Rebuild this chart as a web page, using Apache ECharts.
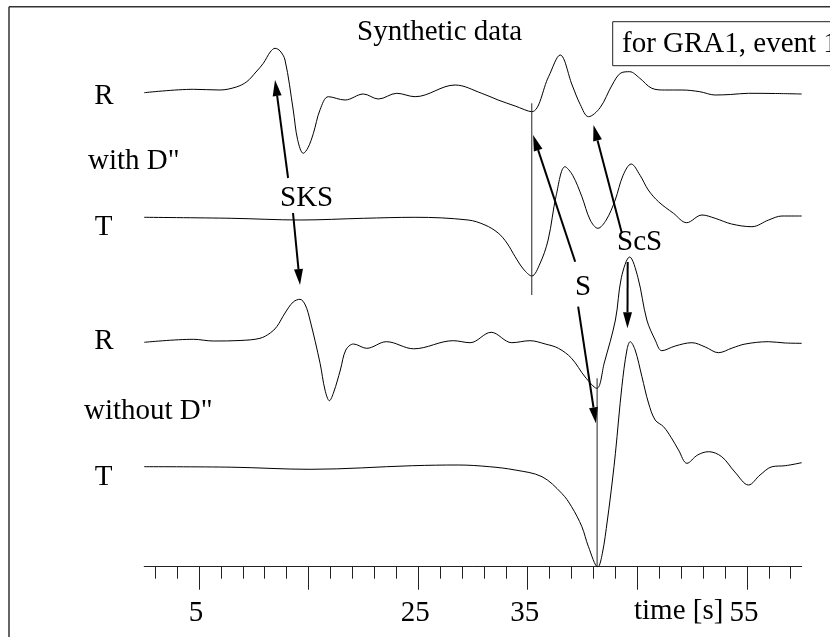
<!DOCTYPE html>
<html><head><meta charset="utf-8">
<script src="https://cdn.jsdelivr.net/npm/echarts@6/dist/echarts.min.js"></script>
<style>html,body{margin:0;padding:0;background:#fff}#c{width:830px;height:637px}</style>
</head><body><div id="c"></div>
<script>
// time axis (s)
const minorTicks = [1,3,5,7,9,11,13,15,17,19,21,23,25,27,29,31,33,35,37,39,41,43,45,47,49,51,53,55,57,59];
const majorTicks = [5,15,25,35,45,55];
const tickLabels = [5,25,35,55];

// traces: [time s, amplitude]
const withR = [[0,0],[4.5,3.4],[6.9,2.7],[8.4,5.7],[9.36,11],[10.2,20.7],[10.87,29.4],[11.5,40.7],[11.94,44.4],[12.4,41.7],[12.85,32.7],[13.6,-17.3],[14.0,-47],[14.52,-60.6],[14.95,-55],[15.44,-40.6],[16.05,-17],[16.81,-4],[18.33,-7.3],[20.0,-1.3],[21.37,-6.3],[23.05,-0.6],[24.72,-4],[28.37,7.7],[30.8,-0.6],[32.3,-7.3],[33.85,-13.3],[35.37,-19],[36.9,16],[37.96,37.7],[39.05,7.7],[39.8,-12],[40.54,-24],[41.6,-15],[42.7,7.7],[43.5,19.7],[44.3,21],[45.2,14.7],[46.33,4.4],[47.5,2.7],[49.07,2.7],[50.7,1],[52.1,-2.3],[53.5,-1.8],[55.15,-0.6],[57.6,-0.8],[60,-1.3]];
const withT = [[0,0],[8,-1],[14.2,-2.7],[20,-1],[24.7,0],[29.56,-2.7],[31.1,-7.7],[32.3,-15.7],[33.1,-25.7],[33.85,-39.4],[34.6,-51.7],[35.37,-58.7],[36.1,-46.7],[36.86,-22.7],[37.6,22],[38.4,50.6],[39.1,42],[39.94,20.6],[40.7,-2.7],[41.4,-11],[42.16,-2.7],[42.98,17.3],[43.7,42],[44.44,53.3],[45.25,42],[46.0,27.3],[46.93,15.6],[48.3,4],[49.5,-5.4],[50.9,2.3],[52.1,-1],[53.6,-6.7],[55.46,-9.4],[56.98,-2.7],[58.2,1.3],[60,1.3]];
const withoutR = [[0,0],[4.48,3],[6.3,1.3],[8.75,1.8],[10.57,4],[11.5,9.3],[12.1,15.6],[12.85,29.3],[13.6,40.3],[14.22,43],[14.7,37.3],[15.13,22.3],[16.05,-21],[16.5,-47.7],[16.9,-58.4],[17.3,-49.7],[17.9,-27.7],[18.4,-7.7],[19.1,-1.7],[20.3,-6],[22.1,0.6],[24.6,-6.5],[28.2,1.6],[29.74,-0.4],[31.66,10],[33.55,-0.4],[35.2,1.6],[36.6,-1.7],[37.8,-6],[39.0,-16],[40.24,-34.7],[41.3,-46],[41.98,-20.7],[43.0,22.3],[43.55,65],[44.3,85.3],[45.05,65],[45.87,22.3],[46.63,2.3],[47.24,-8.4],[48.46,-3.7],[49.98,-0.4],[51.2,-4.7],[52.4,-10.4],[53.66,-5.7],[54.85,-1.7],[56.95,0.6],[58.5,-0.7],[60,-1]];
const withoutT = [[0,0],[8,-0.5],[15.14,-2.6],[24.5,1],[28.65,1.7],[31.5,0],[33.85,-3.3],[36.3,-10],[38.1,-26.6],[39.0,-40],[39.94,-60],[40.54,-80],[41.4,-100.3],[41.81,-86.6],[42.27,-53.3],[42.73,-13.3],[43.0,13.4],[43.59,80],[44.05,116.7],[44.35,125],[44.8,116.7],[45.42,90],[46.02,63.7],[46.63,46.7],[47.39,40],[48.1,29],[48.76,16.7],[49.53,3.4],[50.5,11.7],[51.5,15],[52.7,10],[53.9,-5.3],[55.15,-18.3],[56.2,-8.3],[57.3,0],[58.5,1],[60,4]];

// vertical offsets of the traces
const traceOffsets = [474, 349.4, 224.4, 100];
// phase markers: [time, from, to]
const markers = [[35.37, 463.4, 271.7],[41.33, 188.4, 0]];
// arrows: [t1, v1, t2(tip), v2(tip)]
const arrows = [[13.13,388.7,11.94,486.7],[13.58,353.7,14.22,281.7],[39.33,305,35.49,431.7],[43.59,333.4,41.0,441.7],[39.6,260,41.22,143.4],[44.12,304.7,44.1,238.4]];

const FONT = '"Liberation Serif","Times New Roman",serif';
const FS = 29;
const traces = [withR, withT, withoutR, withoutT];

const chart = echarts.init(document.getElementById('c'), null, {renderer:'canvas'});
const series = traces.map((tr, i) => ({
  type:'line', xAxisIndex:0, yAxisIndex:0, showSymbol:false, smooth:0.35, animation:false,
  lineStyle:{color:'#000', width:1},
  data: tr.map(p => [p[0], p[1] + traceOffsets[i]])
}));
markers.forEach(m => series.push({
  type:'line', showSymbol:false, animation:false, lineStyle:{color:'#222', width:1},
  data:[[m[0], m[1]],[m[0], m[2]]]
}));
series.push({
  type:'custom', animation:false, data: arrows,
  renderItem: (params, api) => {
    const p1 = api.coord([api.value(0), api.value(1)]);
    const p2 = api.coord([api.value(2), api.value(3)]);
    const dx = p2[0]-p1[0], dy = p2[1]-p1[1];
    const L = Math.sqrt(dx*dx+dy*dy), ux = dx/L, uy = dy/L;
    const hl = 16, hw = 4.5;
    const bx = p2[0]-ux*hl, by = p2[1]-uy*hl;
    return {type:'group', children:[
      {type:'line', shape:{x1:p1[0],y1:p1[1],x2:bx,y2:by}, style:{stroke:'#000', lineWidth:2}},
      {type:'polygon', shape:{points:[[p2[0],p2[1]],[bx-uy*hw,by+ux*hw],[bx+uy*hw,by-ux*hw]]}, style:{fill:'#000'}}
    ]};
  }
});

const txt = (x, y, s, align) => ({type:'text', x, y, style:{text:s, font:FS+'px '+FONT, fill:'#000', align:align||'left', verticalAlign:'middle'}});

chart.setOption({
  animation:false,
  backgroundColor:'#fff',
  grid:{left:144.2, right:28.3, top:0, bottom:70.3},
  xAxis:[
    {type:'value', min:0, max:60, position:'bottom',
     axisLine:{show:true, lineStyle:{color:'#222', width:1}},
     axisTick:{show:true, customValues:minorTicks, length:12, lineStyle:{color:'#222', width:1}},
     axisLabel:{show:true, customValues:tickLabels, margin:32, fontFamily:FONT, fontSize:FS, color:'#000', padding:[0,6,0,0]},
     splitLine:{show:false}},
    {type:'value', min:0, max:60, position:'bottom', gridIndex:0,
     axisLine:{show:false},
     axisTick:{show:true, customValues:majorTicks, length:23, lineStyle:{color:'#222', width:1}},
     axisLabel:{show:false}, splitLine:{show:false}}
  ],
  yAxis:{type:'value', min:0, max:566.7, show:false},
  series,
  graphic:[
    {type:'line', shape:{x1:9, y1:637, x2:9, y2:6.7}, style:{stroke:'#333', lineWidth:1.5}},
    {type:'line', shape:{x1:9, y1:6.7, x2:830, y2:6.7}, style:{stroke:'#333', lineWidth:1.5}},
    {type:'rect', shape:{x:612.7, y:21.7, width:300, height:44}, style:{stroke:'#222', fill:'none', lineWidth:1}},
    txt(622, 44, 'for GRA1, event 1'),
    txt(357, 32, 'Synthetic data'),
    txt(104, 96.5, 'R', 'center'),
    txt(88, 161, 'with D"'),
    txt(103.5, 227.5, 'T', 'center'),
    txt(280, 198, 'SKS'),
    txt(104, 341, 'R', 'center'),
    txt(84, 411, 'without D"'),
    txt(103.5, 477.5, 'T', 'center'),
    txt(575, 287.5, 'S'),
    txt(617, 242.5, 'ScS'),
    txt(634, 611, 'time [s]')
  ]
});
</script></body></html>
